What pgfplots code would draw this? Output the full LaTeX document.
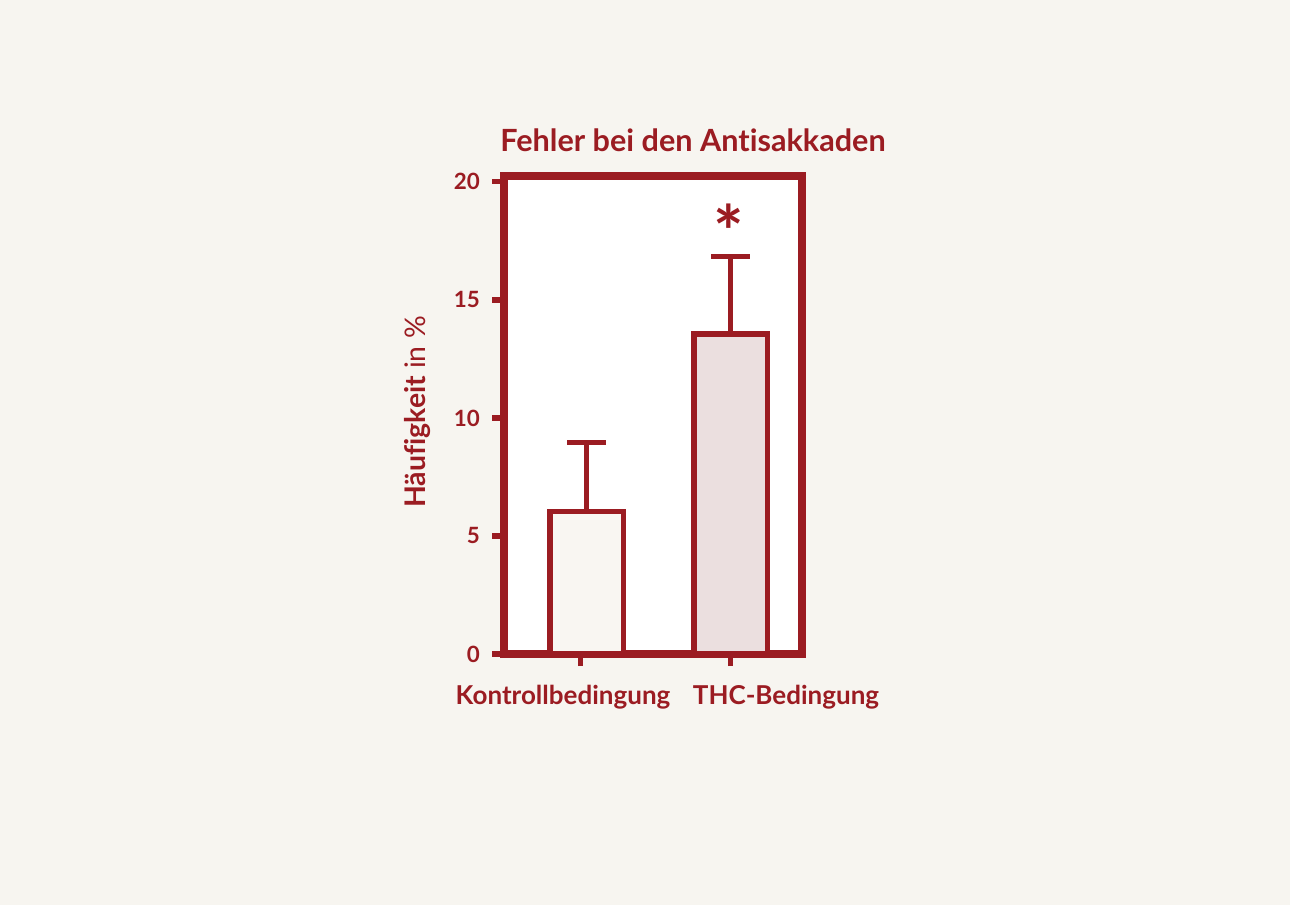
\documentclass[border=0pt]{standalone}
\usepackage{pgfplots}
\pgfplotsset{compat=1.18}
\usepackage{fontspec}
\setmainfont{Lato}[Ligatures=NoCommon]
\definecolor{dred}{HTML}{9B1C22}
\definecolor{bgc}{HTML}{F7F5F0}
\definecolor{thcfill}{HTML}{EBDFDF}
\definecolor{kfill}{HTML}{F9F6F2}
\begin{document}
\begin{tikzpicture}
\fill[bgc] (0,0) rectangle (645pt,452.5pt);
\begin{axis}[
  at={(252pt,125.5pt)}, anchor=south west,
  scale only axis, width=149pt, height=239pt,
  xmin=-0.511, xmax=1.475, ymin=0, ymax=20.25,
  axis background/.style={fill=white},
  axis line style={dred, line width=3.7pt},
  ytick={0,5,10,15,20}, xtick={0,1}, xticklabels={},
  ytick pos=left, xtick pos=bottom,
  tick align=outside, major tick length=6pt,
  tick style={dred, line width=2.6pt},
  yticklabel style={font=\fontsize{11.2}{12}\selectfont\bfseries, text=dred, xshift=-2.5pt},
  /pgf/number format/assume math mode=true,
  ybar, bar width=0.49, bar shift=0pt,
  clip=false,
]
\addplot[draw=dred, fill=kfill, line width=2.6pt, bar shift=0pt,
  error bars/.cd, y dir=plus, y explicit,
  error bar style={dred, line width=2.4pt},
  error mark options={dred, rotate=90, mark size=9.75pt, line width=2.4pt}]
  coordinates {(0.04,6.05) +- (0,2.9)};
\addplot[draw=dred, fill=thcfill, line width=2.6pt, bar shift=0pt,
  error bars/.cd, y dir=plus, y explicit,
  error bar style={dred, line width=2.4pt},
  error mark options={dred, rotate=90, mark size=9.75pt, line width=2.4pt}]
  coordinates {(1,13.56) +- (0,3.27)};
\node[text=dred, font=\fontsize{36}{38}\selectfont\bfseries] at (axis cs:0.99,17.9) {*};
\end{axis}
\node[anchor=base, text=dred, font=\fontsize{15.3}{17}\selectfont\bfseries] at (346.5pt,376.5pt) {Fehler bei den Antisakkaden};
\node[anchor=base, text=dred, font=\fontsize{13}{14}\selectfont\bfseries] at (281.5pt,100pt) {Kontrollbedingung};
\node[anchor=base, text=dred, font=\fontsize{13}{14}\selectfont\bfseries] at (393pt,100pt) {THC-Bedingung};
\node[rotate=90, text=dred, font=\fontsize{14.2}{15}\selectfont] at (209pt,246.5pt) {\textbf{Häufigkeit} in \%};
\pgfresetboundingbox
\path (0,0) rectangle (645pt,452.5pt);
\end{tikzpicture}
\end{document}
